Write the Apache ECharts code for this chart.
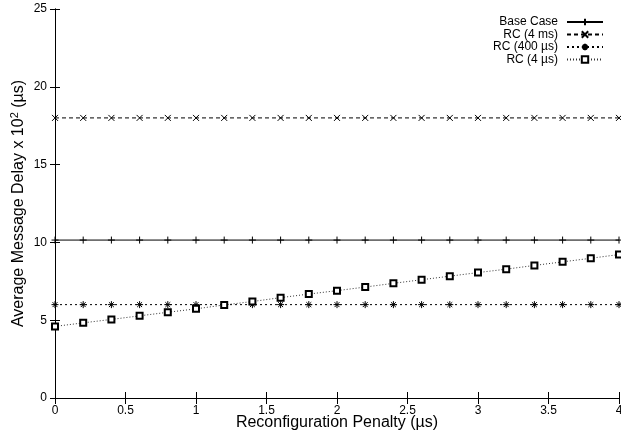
<!DOCTYPE html>
<html>
<head>
<meta charset="utf-8">
<script src="https://cdn.jsdelivr.net/npm/echarts@6/dist/echarts.min.js"></script>
<style>html,body{margin:0;padding:0;background:#fff}#c{width:621px;height:441px}</style>
</head>
<body>
<div id="c"></div>
<script>
const xValues = [0, 0.2, 0.4, 0.6, 0.8, 1.0, 1.2, 1.4, 1.6, 1.8, 2.0, 2.2, 2.4, 2.6, 2.8, 3.0, 3.2, 3.4, 3.6, 3.8, 4.0];
const baseCase = [10.15, 10.15, 10.15, 10.15, 10.15, 10.15, 10.15, 10.15, 10.15, 10.15, 10.15, 10.15, 10.15, 10.15, 10.15, 10.15, 10.15, 10.15, 10.15, 10.15, 10.15];
const rc4ms = [18.0, 18.0, 18.0, 18.0, 18.0, 18.0, 18.0, 18.0, 18.0, 18.0, 18.0, 18.0, 18.0, 18.0, 18.0, 18.0, 18.0, 18.0, 18.0, 18.0, 18.0];
const rc400us = [6.0, 6.0, 6.0, 6.0, 6.0, 6.0, 6.0, 6.0, 6.0, 6.0, 6.0, 6.0, 6.0, 6.0, 6.0, 6.0, 6.0, 6.0, 6.0, 6.0, 6.0];
const rc4us = [4.6, 4.83, 5.05, 5.28, 5.51, 5.73, 5.98, 6.2, 6.45, 6.68, 6.9, 7.13, 7.37, 7.6, 7.83, 8.06, 8.28, 8.52, 8.75, 8.98, 9.22];
const seriesNames = ['Base Case', 'RC (4 ms)', 'RC (400 µs)', 'RC (4 µs)'];
const xTickInterval = 0.5;
const yTickInterval = 5;

const font = '"Liberation Sans", Arial, Helvetica, sans-serif';
const pair = ys => xValues.map((x, i) => [x, ys[i]]);

const plusPath = 'path://M5,0L5,10M0,5L10,5';
const crossPath = 'path://M0,0L10,10M10,0L0,10';
const starPath = 'path://M5,0L5,10M0,5L10,5M1.5,1.5L8.5,8.5M8.5,1.5L1.5,8.5';

function mk(name, data, symbol, lineType, lineColor, size) {
  return {
    name: name,
    type: 'line',
    data: pair(data),
    symbol: symbol,
    symbolSize: size,
    showAllSymbol: true,
    animation: false,
    lineStyle: { color: lineColor, width: 1, type: lineType },
    itemStyle: { color: '#000', borderColor: '#000', borderWidth: 1 },
    emphasis: { disabled: true }
  };
}

const chart = echarts.init(document.getElementById('c'), null, { renderer: 'canvas' });
const axisCommon = {
  type: 'value',
  axisLine: { show: true, lineStyle: { color: '#000', width: 1 } },
  splitLine: { show: false }
};
chart.setOption({
  backgroundColor: '#fff',
  animation: false,
  textStyle: { fontFamily: font },
  grid: { left: 55, right: 2, top: 9, bottom: 43, containLabel: false, outerBoundsMode: 'none' },
  legend: {
    orient: 'vertical',
    right: 12,
    top: 11,
    align: 'right',
    itemWidth: 36,
    itemHeight: 8,
    itemGap: 0.5,
    data: seriesNames,
    textStyle: { fontFamily: font, fontSize: 12, lineHeight: 12, color: '#000', padding: [0, 4, 0, 0] },
    selectedMode: false
  },
  xAxis: [
    Object.assign({}, axisCommon, {
      position: 'bottom', min: 0, max: 4, interval: xTickInterval,
      axisTick: { show: true, inside: true, length: 6, lineStyle: { color: '#000' } },
      axisLabel: { fontSize: 12, color: '#000', margin: 7, fontFamily: font },
      name: 'Reconfiguration Penalty (µs)', nameLocation: 'middle', nameGap: 17, nameMoveOverlap: false,
      nameTextStyle: { fontSize: 16, color: '#000', fontFamily: font }
    }),
    Object.assign({}, axisCommon, {
      position: 'top', min: 0, max: 4, interval: xTickInterval,
      axisTick: { show: true, inside: true, length: 6, lineStyle: { color: '#000' } },
      axisLabel: { show: false }
    })
  ],
  yAxis: [
    Object.assign({}, axisCommon, {
      position: 'left', min: 0, max: 25, interval: yTickInterval,
      axisTick: { show: true, inside: true, length: 5, lineStyle: { color: '#000' } },
      axisLabel: { fontSize: 12, color: '#000', margin: 8, fontFamily: font },
      name: '{a|Average Message Delay x 10}{s|2}{a| (µs)}', nameLocation: 'middle', nameGap: 27, nameMoveOverlap: false,
      nameTextStyle: {
        color: '#000', fontFamily: font,
        rich: {
          a: { fontSize: 16, fontFamily: font, color: '#000' },
          s: { fontSize: 11, fontFamily: font, color: '#000', verticalAlign: 'top', padding: [0, 0, 8, 0] }
        }
      }
    }),
    Object.assign({}, axisCommon, {
      position: 'right', min: 0, max: 25, interval: yTickInterval,
      axisTick: { show: true, inside: true, length: 5, lineStyle: { color: '#000' } },
      axisLabel: { show: false }
    })
  ],
  series: [
    mk(seriesNames[0], baseCase, plusPath, 'solid', '#000', 7),
    mk(seriesNames[1], rc4ms, crossPath, [4, 3], '#000', 6),
    mk(seriesNames[2], rc400us, starPath, [2, 3], '#000', 7),
    mk(seriesNames[3], rc4us, 'emptyRect', [1, 2], '#333', 6)
  ]
});
</script>
</body>
</html>
